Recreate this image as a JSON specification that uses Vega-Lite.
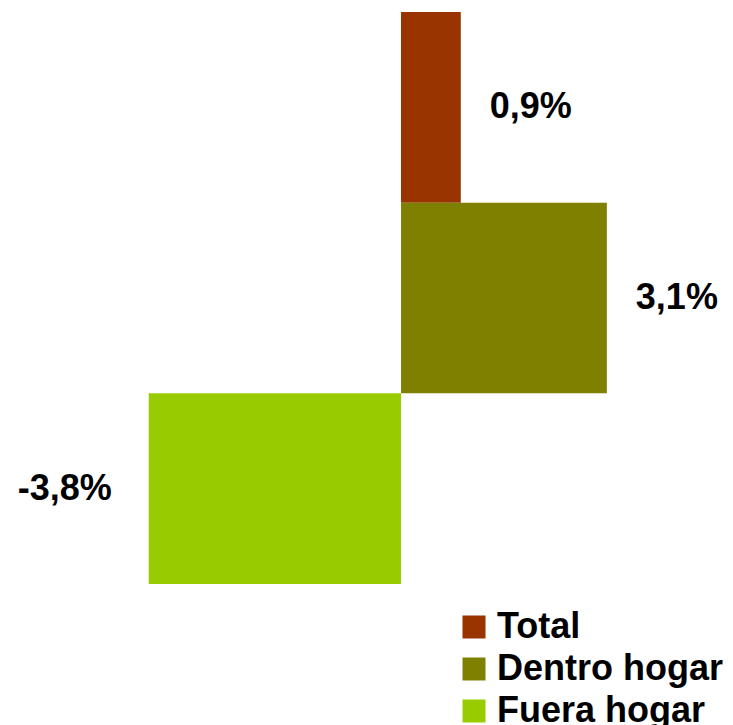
{
  "$schema": "https://vega.github.io/schema/vega-lite/v6.json",
  "autosize": "none",
  "width": 733,
  "height": 572,
  "padding": {"top": 12, "left": 0, "right": 0, "bottom": 141},
  "background": "white",
  "config": {"view": {"stroke": null}, "font": "Liberation Sans"},
  "data": {"values": [
    {"cat": "Total", "value": 0.9, "label": "0,9%"},
    {"cat": "Dentro hogar", "value": 3.1, "label": "3,1%"},
    {"cat": "Fuera hogar", "value": -3.8, "label": "-3,8%"}
  ]},
  "encoding": {
    "y": {"field": "cat", "type": "nominal", "sort": ["Total", "Dentro hogar", "Fuera hogar"],
          "scale": {"paddingInner": 0, "paddingOuter": 0}, "axis": null},
    "x": {"field": "value", "type": "quantitative",
          "scale": {"domain": [-6.04, 5.0], "nice": false, "zero": false}, "axis": null}
  },
  "layer": [
    {
      "mark": {"type": "bar", "strokeWidth": 0},
      "encoding": {
        "color": {"field": "cat", "type": "nominal",
          "scale": {"domain": ["Total", "Dentro hogar", "Fuera hogar"], "range": ["#993300", "#808000", "#99CC00"]},
          "legend": {"title": null, "orient": "none", "legendX": 456, "legendY": 597,
            "symbolType": "square", "symbolSize": 529, "symbolStrokeWidth": 0,
            "labelFontSize": 36, "labelFontWeight": "bold", "labelColor": "black", "labelLimit": 0,
            "labelFont": "Liberation Sans", "labelOffset": 5, "rowPadding": 6, "padding": 0}}
      }
    },
    {
      "transform": [{"filter": "datum.value > 0"}],
      "mark": {"type": "text", "align": "left", "baseline": "middle", "dx": 29, "fontSize": 36, "fontWeight": "bold", "color": "black"},
      "encoding": {"text": {"field": "label"}}
    },
    {
      "transform": [{"filter": "datum.value < 0"}],
      "mark": {"type": "text", "align": "right", "baseline": "middle", "dx": -37, "fontSize": 36, "fontWeight": "bold", "color": "black"},
      "encoding": {"text": {"field": "label"}}
    }
  ]
}
